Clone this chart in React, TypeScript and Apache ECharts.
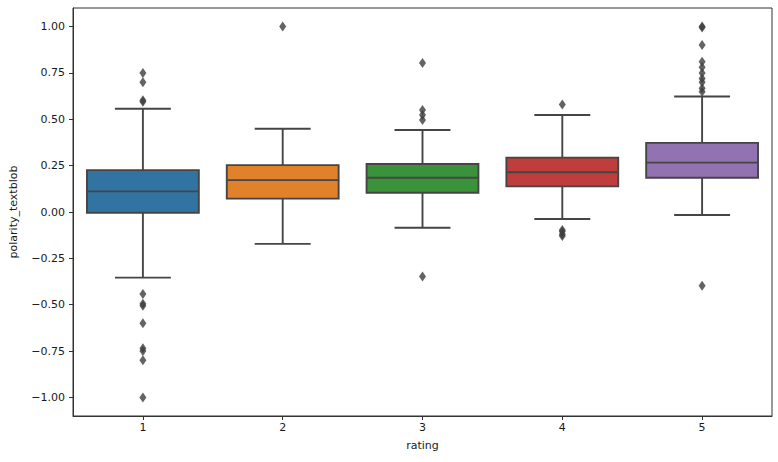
import React, { useEffect, useRef } from "react";
import * as echarts from "echarts";

// ratings on the x axis
const ratings = ["1", "2", "3", "4", "5"];

// box stats per rating: [lower whisker, Q1, median, Q3, upper whisker]
const lowerWhisker = [-0.354, -0.172, -0.085, -0.038, -0.016];
const q1 = [-0.004, 0.072, 0.104, 0.138, 0.185];
const median = [0.111, 0.172, 0.185, 0.214, 0.266];
const q3 = [0.226, 0.253, 0.259, 0.293, 0.373];
const upperWhisker = [0.557, 0.449, 0.442, 0.523, 0.623];

// outliers per rating
const outliers1 = [0.75, 0.7, 0.603, 0.594, -0.442, -0.495, -0.505, -0.6, -0.735, -0.75, -0.8, -1.0];
const outliers2 = [1.0];
const outliers3 = [0.803, 0.55, 0.523, 0.496, -0.348];
const outliers4 = [0.58, -0.097, -0.105, -0.12, -0.13];
const outliers5 = [1.0, 0.995, 0.9, 0.81, 0.78, 0.75, 0.72, 0.7, 0.667, 0.648, -0.397];

const yTicks = [-1, -0.75, -0.5, -0.25, 0, 0.25, 0.5, 0.75, 1];

const boxColors = ["#3274a1", "#e1812c", "#3a923a", "#c03d3e", "#9372b2"];
const lineColor = "#454545";

const App = () => {
    const chartRef = useRef<HTMLDivElement>(null);

    useEffect(() => {
        if (!chartRef.current) return;
        document.body.style.margin = "0";

        const chart = echarts.init(chartRef.current, null, { renderer: "svg" });

        const boxData = ratings.map((_, i) => [i, lowerWhisker[i], q1[i], median[i], q3[i], upperWhisker[i]]);
        const outlierData = [outliers1, outliers2, outliers3, outliers4, outliers5].flatMap((list, i) =>
            list.map(v => [i, v])
        );

        const options = {
            animation: false,
            textStyle: { fontFamily: "DejaVu Sans" },
            grid: {
                left: 73, right: 6, top: 8, bottom: 46,
                show: true, borderColor: "#333", borderWidth: 1, backgroundColor: "transparent"
            },
            xAxis: {
                type: "category",
                data: ratings,
                boundaryGap: true,
                name: "rating",
                nameLocation: "middle",
                nameGap: 24,
                nameTextStyle: { fontSize: 11, color: "#1a1a1a" },
                axisLine: { show: true, onZero: false, lineStyle: { color: "#333", width: 1 } },
                axisTick: { show: true, alignWithLabel: true, length: 4, lineStyle: { color: "#333" } },
                axisLabel: { fontSize: 11, color: "#1a1a1a", margin: 6 },
                splitLine: { show: false }
            },
            yAxis: {
                type: "value",
                min: -1.1,
                max: 1.1,
                name: "polarity_textblob",
                nameLocation: "middle",
                nameGap: 54,
                nameRotate: 90,
                nameTextStyle: { fontSize: 11, color: "#1a1a1a" },
                axisLine: { show: true, lineStyle: { color: "#333", width: 1 } },
                axisTick: { show: true, length: 4, customValues: yTicks, lineStyle: { color: "#333" } },
                axisLabel: {
                    fontSize: 11, color: "#1a1a1a", margin: 8,
                    customValues: yTicks,
                    formatter: (v: number) => v.toFixed(2).replace("-", "\u2212")
                },
                splitLine: { show: false }
            },
            series: [
                {
                    type: "custom",
                    data: boxData,
                    encode: { x: 0, y: [1, 2, 3, 4, 5] },
                    renderItem: (params: any, api: any) => {
                        const idx = api.value(0);
                        const band = api.size([1, 0])[0];
                        const half = band * 0.4;
                        const cap = band * 0.2;
                        const lo = api.coord([idx, api.value(1)]);
                        const b1 = api.coord([idx, api.value(2)]);
                        const md = api.coord([idx, api.value(3)]);
                        const b3 = api.coord([idx, api.value(4)]);
                        const hi = api.coord([idx, api.value(5)]);
                        const cx = lo[0];
                        const ls = { stroke: lineColor, lineWidth: 1.9 };
                        return {
                            type: "group",
                            children: [
                                { type: "line", shape: { x1: cx, y1: hi[1], x2: cx, y2: b3[1] }, style: ls },
                                { type: "line", shape: { x1: cx, y1: b1[1], x2: cx, y2: lo[1] }, style: ls },
                                { type: "line", shape: { x1: cx - cap, y1: hi[1], x2: cx + cap, y2: hi[1] }, style: ls },
                                { type: "line", shape: { x1: cx - cap, y1: lo[1], x2: cx + cap, y2: lo[1] }, style: ls },
                                {
                                    type: "rect",
                                    shape: { x: cx - half, y: b3[1], width: half * 2, height: b1[1] - b3[1] },
                                    style: { fill: boxColors[idx], stroke: lineColor, lineWidth: 1.9 }
                                },
                                { type: "line", shape: { x1: cx - half, y1: md[1], x2: cx + half, y2: md[1] }, style: ls }
                            ]
                        };
                    },
                    z: 2
                },
                {
                    type: "scatter",
                    data: outlierData,
                    symbol: "diamond",
                    symbolSize: [7, 10],
                    itemStyle: { color: "#3d3d3d" },
                    z: 3
                }
            ]
        };

        chart.setOption(options);
        return () => chart.dispose();
    }, []);

    return <div ref={chartRef} style={{ width: "778px", height: "462px" }} />;
};

export default App;
